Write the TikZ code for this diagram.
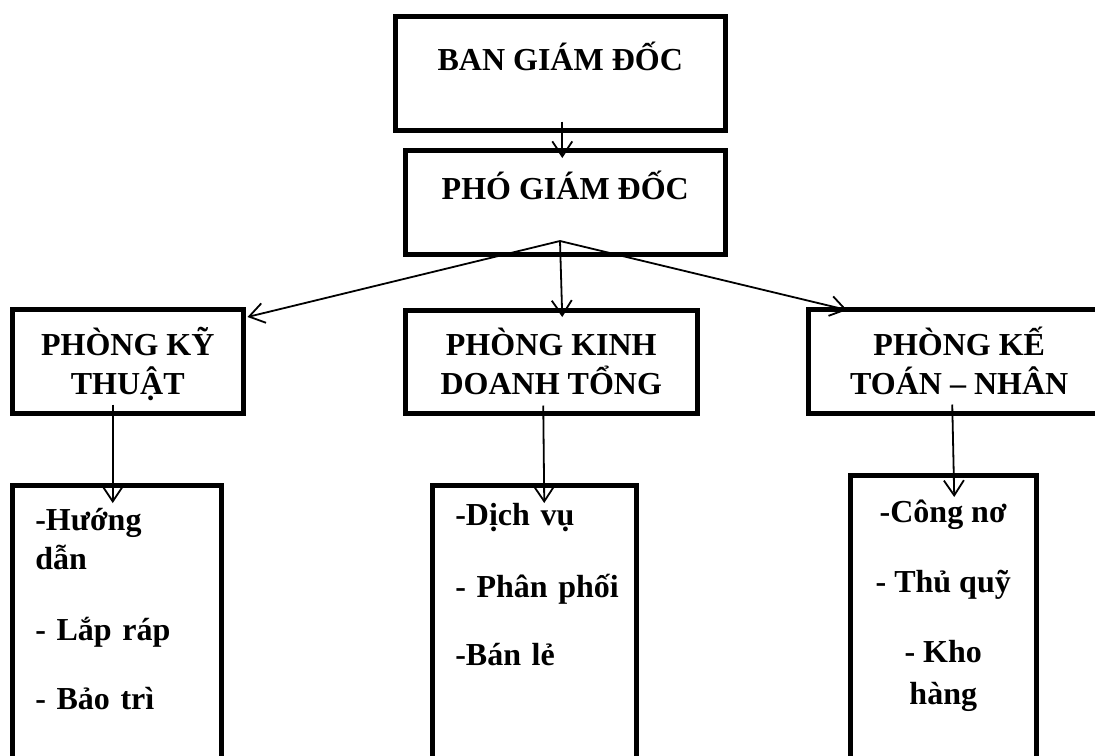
\documentclass[tikz,border=0pt]{standalone}
\usepackage{fontspec}
\setmainfont{Liberation Serif}
\usetikzlibrary{arrows.meta}
\begin{document}
\begin{tikzpicture}[x=1pt,y=-1pt,
  box/.style={draw=black, line width=4.5pt, rectangle, anchor=north west, inner sep=0pt,
    font=\fontsize{32}{39}\selectfont\bfseries},
  arr/.style={line width=1.8pt, -{Straight Barb[length=15pt,width=20pt]}}]
\useasboundingbox (0,0) rectangle (1095,755);
\clip (0,0) rectangle (1095,755);
\node [box, minimum width=330pt, minimum height=114pt, text height=24pt, text depth=30pt] (bgd) at (393,14) {BAN GIÁM ĐỐC};
\node [box, minimum width=320pt, minimum height=104pt, text height=24pt, text depth=30pt] (pgd) at (403,148) {PHÓ GIÁM ĐỐC};
\node [box, minimum width=231pt, minimum height=104pt, align=center, text height=72pt, text depth=6pt] (pkt) at (10,307) {PHÒNG KỸ\\THUẬT};
\node [box, minimum width=292pt, minimum height=103pt, align=center, text height=72pt, text depth=6pt] (pkd) at (403,308) {PHÒNG KINH\\DOANH TỔNG};
\node [box, minimum width=302pt, minimum height=104pt, align=center, text height=72pt, text depth=6pt] (pktn) at (806,307) {PHÒNG KẾ\\TOÁN – NHÂN};
\node [box, minimum width=209pt, minimum height=307pt, text width=163pt, align=left, text height=5pt, text depth=222pt] (ktsub) at (10,483) {\mbox{-Hướng}\\\mbox{dẫn}\\[32pt]\mbox{- Lắp ráp}\\[30pt]\mbox{- Bảo trì}};
\node [box, minimum width=204pt, minimum height=307pt, text width=158pt, align=left, text height=5pt, text depth=232pt] (kdsub) at (430,483) {\mbox{-Dịch vụ}\\[33pt]\mbox{- Phân phối}\\[29pt]\mbox{-Bán lẻ}};
\node [box, minimum width=186pt, minimum height=317pt, align=center, text height=150pt, text depth=9pt] (ktnsub) at (848,473) {-Công nơ\\[31pt]- Thủ quỹ\\[31pt]- Kho\\[3pt]hàng};
\draw [arr] ([xshift=2pt,yshift=11pt]bgd.south) -- ([xshift=-3pt,yshift=-10pt]pgd.north);
\coordinate (pgdout) at (560,241);
\draw [arr] (pgdout) -- ([xshift=2pt,yshift=-10pt]pkt.north east);
\draw [arr] (pgdout) -- ([xshift=11pt,yshift=-9pt]pkd.north);
\draw [arr] (pgdout) -- ([xshift=41pt,yshift=-3pt]pktn.north west);
\draw [arr] ([xshift=-15pt,yshift=11pt]pkt.south) -- ([xshift=-4pt,yshift=-20pt]ktsub.north);
\draw [arr] ([xshift=-8pt,yshift=10pt]pkd.south) -- ([xshift=10pt,yshift=-20pt]kdsub.north);
\draw [arr] ([xshift=-7pt,yshift=11pt]pktn.south) -- ([xshift=11pt,yshift=-24pt]ktnsub.north);
\end{tikzpicture}
\end{document}
